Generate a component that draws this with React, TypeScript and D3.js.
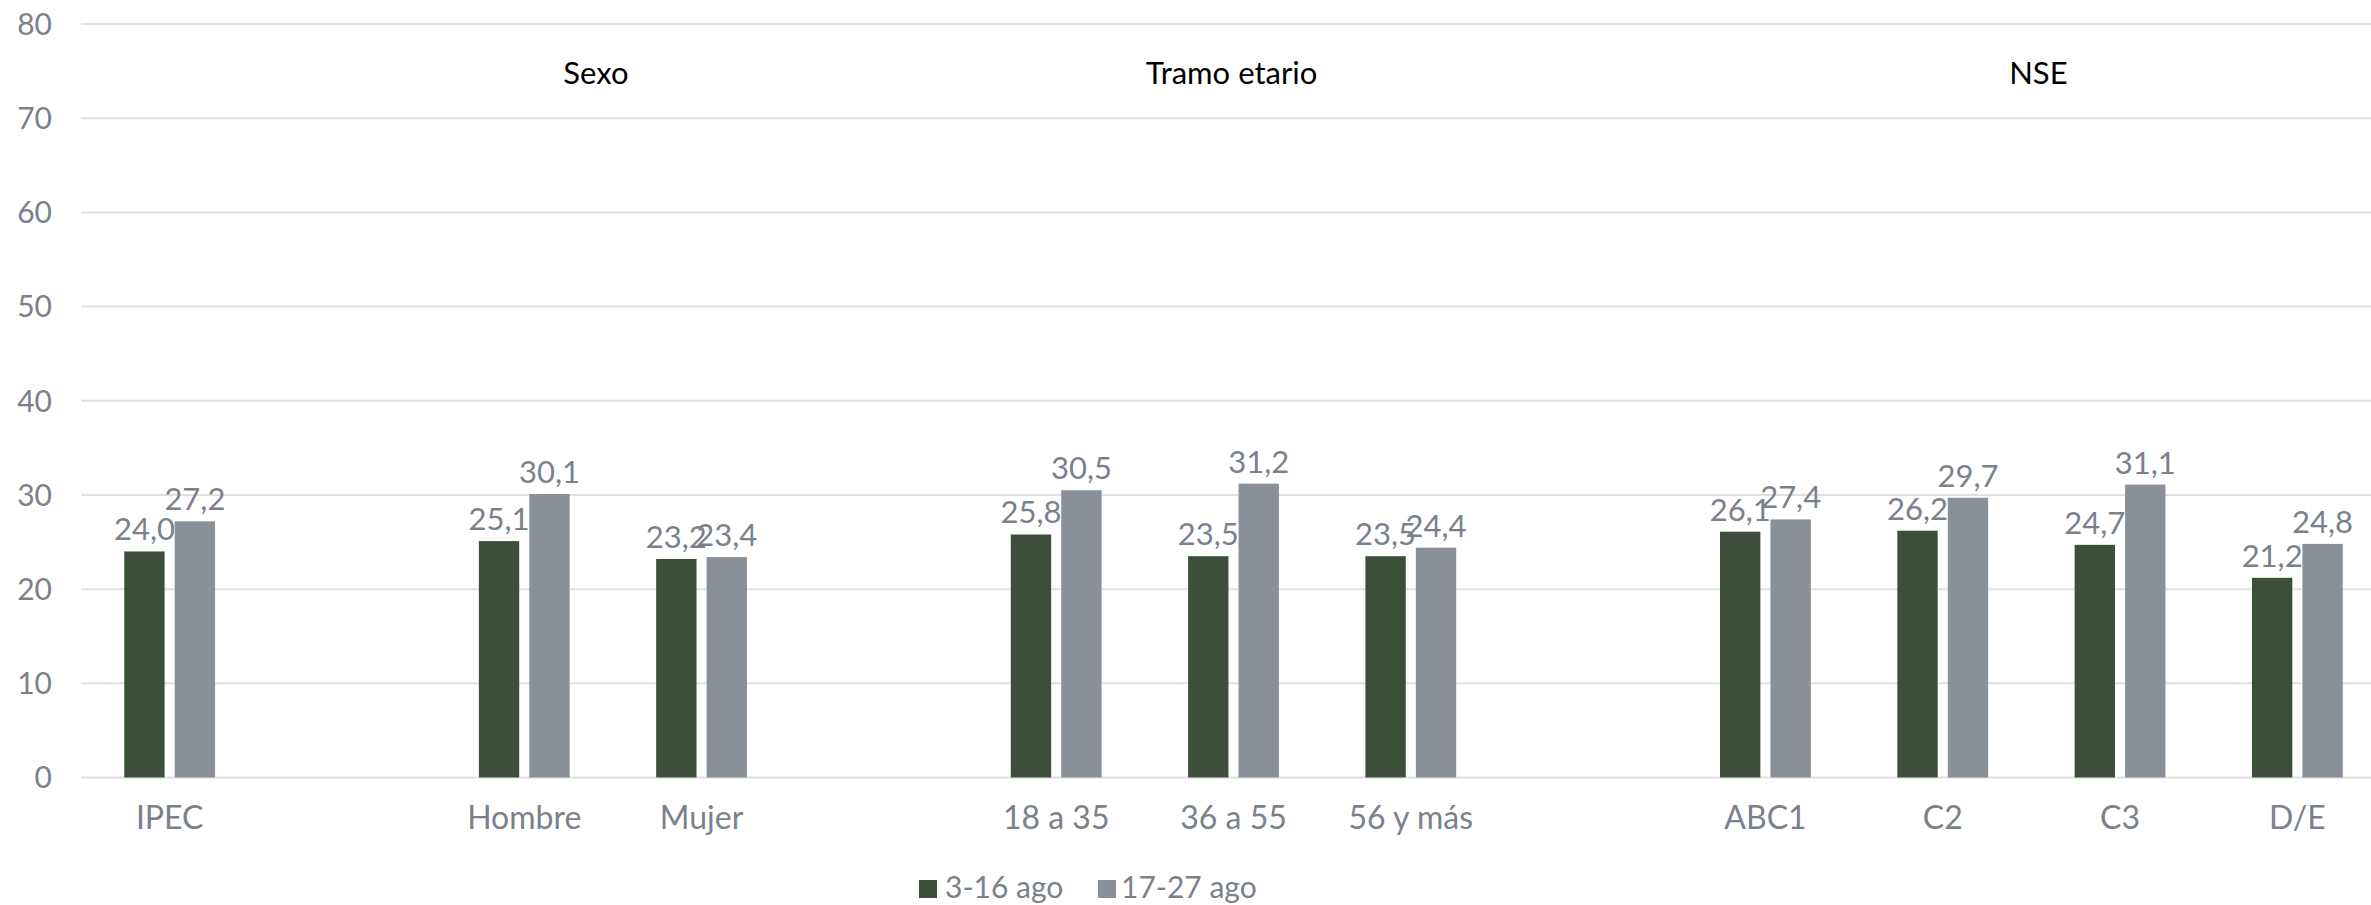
import React from "react";
import * as d3 from "d3";

// slots on the x axis; null = empty gap between groups
const categories: (string | null)[] = [
  "IPEC", null, "Hombre", "Mujer", null, "18 a 35", "36 a 55", "56 y más", null, "ABC1", "C2", "C3", "D/E",
];

const seriesNames = ["3-16 ago", "17-27 ago"];
const seriesColors = ["#3d4f3b", "#8a9098"];

const valuesPeriod1 = [24.0, 25.1, 23.2, 25.8, 23.5, 23.5, 26.1, 26.2, 24.7, 21.2];
const valuesPeriod2 = [27.2, 30.1, 23.4, 30.5, 31.2, 24.4, 27.4, 29.7, 31.1, 24.8];

const groupHeaders = [
  { label: "Sexo", members: ["Hombre", "Mujer"] },
  { label: "Tramo etario", members: ["18 a 35", "36 a 55", "56 y más"] },
  { label: "NSE", members: ["ABC1", "C2", "C3", "D/E"] },
];

const yTicks = [0, 10, 20, 30, 40, 50, 60, 70, 80];

const W = 2371;
const H = 905;
const TEXT = "#7b818a";
const FONT = "Lato, 'Noto Sans', sans-serif";
// the header text boxes sit a little off the group centres
const headerNudge: Record<string, number> = { Sexo: -17, "Tramo etario": -2, NSE: 7 };

export default function App() {
  const x = d3
    .scaleBand<number>()
    .domain(d3.range(categories.length))
    .range([81, 2386])
    .padding(0);

  const y = d3.scaleLinear().domain([0, 80]).range([777.5, 24]);

  const inner = d3
    .scaleBand<number>()
    .domain([0, 1])
    .range([-45.4, 45.4])
    .paddingInner(0.2);

  const named = categories
    .map((c, i) => ({ c, i }))
    .filter((d) => d.c !== null) as { c: string; i: number }[];

  const rows = named.map((d, k) => ({
    name: d.c,
    slot: d.i,
    vals: [valuesPeriod1[k], valuesPeriod2[k]],
  }));

  const center = (slot: number) => (x(slot) ?? 0) + x.bandwidth() / 2;
  const fmt = (v: number) => v.toFixed(1).replace(".", ",");

  return (
    <svg
      width={W}
      height={H}
      style={{ position: "absolute", left: 0, top: 0, background: "#fff" }}
      fontFamily={FONT}
    >
      {/* gridlines + y labels */}
      {yTicks.map((t) => (
        <g key={t}>
          <line x1={81} x2={2386} y1={y(t)} y2={y(t)} stroke="#e0e0e0" strokeWidth={2} />
          <text x={52} y={y(t)} dy="0.36em" textAnchor="end" fontSize={30} fill={TEXT}>
            {t}
          </text>
        </g>
      ))}

      {/* bars */}
      {rows.map((r) => (
        <g key={r.name} transform={`translate(${center(r.slot)},0)`}>
          {r.vals.map((v, s) => (
            <rect
              key={s}
              x={inner(s)}
              y={y(v)}
              width={inner.bandwidth()}
              height={y(0) - y(v)}
              fill={seriesColors[s]}
            />
          ))}
          {r.vals.map((v, s) => (
            <text
              key={"l" + s}
              x={(inner(s) ?? 0) + inner.bandwidth() / 2}
              y={y(v) - 11}
              textAnchor="middle"
              fontSize={31}
              fill={TEXT}
            >
              {fmt(v)}
            </text>
          ))}
          <text x={0} y={829} textAnchor="middle" fontSize={32} fill={TEXT}>
            {r.name}
          </text>
        </g>
      ))}

      {/* group headers */}
      {groupHeaders.map((g) => {
        const xs = g.members.map((m) => center(categories.indexOf(m)));
        return (
          <text
            key={g.label}
            x={(d3.mean(xs) ?? 0) + (headerNudge[g.label] ?? 0)}
            y={84}
            textAnchor="middle"
            fontSize={31}
            fill="#000"
          >
            {g.label}
          </text>
        );
      })}

      {/* legend */}
      <g transform="translate(919,880)">
        <rect x={0} y={0} width={18} height={18} fill={seriesColors[0]} />
        <text x={26} y={18} fontSize={30} fill={TEXT}>
          {seriesNames[0]}
        </text>
        <rect x={179} y={0} width={18} height={18} fill={seriesColors[1]} />
        <text x={202} y={18} fontSize={30} fill={TEXT}>
          {seriesNames[1]}
        </text>
      </g>
    </svg>
  );
}
